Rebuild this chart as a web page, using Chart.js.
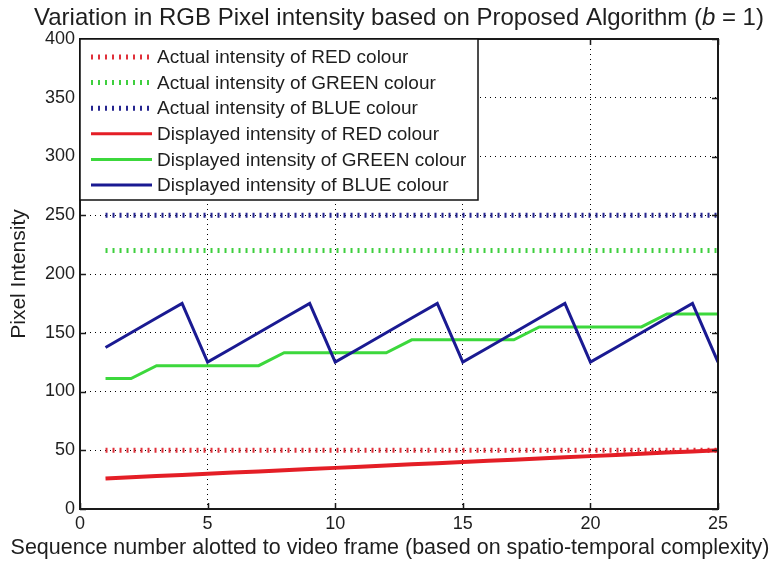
<!DOCTYPE html>
<html>
<head>
<meta charset="utf-8">
<script src="https://cdn.jsdelivr.net/npm/chart.js@4/dist/chart.umd.min.js"></script>
<style>
  html, body { margin: 0; padding: 0; background: #ffffff; }
  #wrap { width: 775px; height: 564px; }
</style>
</head>
<body>
<div id="wrap"><canvas id="c" width="775" height="564"></canvas></div>
<script>
// Frame sequence numbers (x axis)
const frames = [1, 2, 3, 4, 5, 6, 7, 8, 9, 10, 11, 12, 13, 14, 15, 16, 17, 18, 19, 20, 21, 22, 23, 24, 25];

// Actual (source) intensity of each colour channel
const actualRed   = [50, 50, 50, 50, 50, 50, 50, 50, 50, 50, 50, 50, 50, 50, 50, 50, 50, 50, 50, 50, 50, 50, 50, 50, 50];
const actualGreen = [220, 220, 220, 220, 220, 220, 220, 220, 220, 220, 220, 220, 220, 220, 220, 220, 220, 220, 220, 220, 220, 220, 220, 220, 220];
const actualBlue  = [250, 250, 250, 250, 250, 250, 250, 250, 250, 250, 250, 250, 250, 250, 250, 250, 250, 250, 250, 250, 250, 250, 250, 250, 250];

// Displayed intensity of each colour channel
const displayedRed   = [26, 27, 28, 29, 30, 31, 32, 33, 34, 35, 36, 37, 38, 39, 40, 41, 42, 43, 44, 45, 46, 47, 48, 49, 50];
const displayedGreen = [111, 111, 122, 122, 122, 122, 122, 133, 133, 133, 133, 133, 144, 144, 144, 144, 144, 155, 155, 155, 155, 155, 166, 166, 166];
const displayedBlue  = [137.5, 150, 162.5, 175, 125, 137.5, 150, 162.5, 175, 125, 137.5, 150, 162.5, 175, 125, 137.5, 150, 162.5, 175, 125, 137.5, 150, 162.5, 175, 125];

// Axis ticks
const xTicks = [0, 5, 10, 15, 20, 25];
const yTicks = [0, 50, 100, 150, 200, 250, 300, 350, 400];

// Series labels and axis titles
const seriesLabels = [
  'Actual intensity of RED colour',
  'Actual intensity of GREEN colour',
  'Actual intensity of BLUE colour',
  'Displayed intensity of RED colour',
  'Displayed intensity of GREEN colour',
  'Displayed intensity of BLUE colour'
];
const xTitle = 'Sequence number alotted to video frame (based on spatio-temporal complexity)';
const yTitle = 'Pixel Intensity';

const FONT = '"Liberation Sans", Arial, Helvetica, sans-serif';
const TEXT = '#1e1e1e';

const toPoints = (ys) => frames.map((f, i) => ({ x: f, y: ys[i] }));

const dotted = (label, ys, color, order) => ({
  label, data: toPoints(ys), borderColor: color, backgroundColor: color,
  borderWidth: 5, borderDash: [2, 5], borderCapStyle: 'butt',
  pointRadius: 0, tension: 0, fill: false, order
});
const solid = (label, ys, color, width, order) => ({
  label, data: toPoints(ys), borderColor: color, backgroundColor: color,
  borderWidth: width, borderCapStyle: 'butt', borderJoinStyle: 'miter',
  pointRadius: 0, tension: 0, fill: false, order
});

// Title with italic parameter name, plus the full-width x-axis caption
const titlePlugin = {
  id: 'mixedTitle',
  afterDraw(chart) {
    const { ctx, chartArea: a } = chart;
    const parts = [
      { t: 'Variation in RGB Pixel intensity based on Proposed Algorithm (', it: false },
      { t: 'b', it: true },
      { t: ' = 1)', it: false }
    ];
    ctx.save();
    ctx.fillStyle = TEXT;
    ctx.textBaseline = 'alphabetic';
    ctx.textAlign = 'left';
    const fontOf = (p) => (p.it ? 'italic ' : '') + '24px ' + FONT;
    let total = 0;
    parts.forEach(p => { ctx.font = fontOf(p); p.w = ctx.measureText(p.t).width; total += p.w; });
    let x = (a.left + a.right) / 2 - total / 2;
    parts.forEach(p => { ctx.font = fontOf(p); ctx.fillText(p.t, x, 25); x += p.w; });

    ctx.font = '21.5px ' + FONT;
    ctx.textAlign = 'center';
    ctx.textBaseline = 'middle';
    ctx.fillText(xTitle, 390, 548);
    ctx.restore();
  }
};

// Axes box with inward tick marks
const boxPlugin = {
  id: 'axesBox',
  afterDatasetsDraw(chart) {
    const { ctx, chartArea: a, scales: { x, y } } = chart;
    ctx.save();
    ctx.strokeStyle = '#1a1a1a';
    ctx.lineWidth = 1.5;
    ctx.beginPath();
    const tl = 6;
    y.ticks.forEach(t => {
      const py = Math.round(y.getPixelForValue(t.value)) + 0.5;
      ctx.moveTo(a.left, py); ctx.lineTo(a.left + tl, py);
      ctx.moveTo(a.right, py); ctx.lineTo(a.right - tl, py);
    });
    x.ticks.forEach(t => {
      const px = Math.round(x.getPixelForValue(t.value)) + 0.5;
      ctx.moveTo(px, a.bottom); ctx.lineTo(px, a.bottom - tl);
      ctx.moveTo(px, a.top); ctx.lineTo(px, a.top + tl);
    });
    ctx.stroke();
    ctx.lineWidth = 2;
    ctx.strokeRect(a.left, a.top, a.right - a.left, a.bottom - a.top);
    ctx.restore();
  }
};

// Legend box in the upper-left corner of the plot
const legendPlugin = {
  id: 'boxLegend',
  afterDraw(chart) {
    const { ctx, chartArea: a } = chart;
    const w = 398, h = 161;
    const rowTop = 18, rowGap = 25.6;
    const x0 = a.left, y0 = a.top;
    ctx.save();
    ctx.fillStyle = '#ffffff';
    ctx.fillRect(x0, y0, w, h);
    ctx.strokeStyle = '#111111';
    ctx.lineWidth = 1.5;
    ctx.strokeRect(x0, y0, w, h);
    ctx.font = '19px ' + FONT;
    ctx.textBaseline = 'middle';
    ctx.textAlign = 'left';
    chart.data.datasets.forEach((ds, i) => {
      const cy = y0 + rowTop + i * rowGap;
      ctx.save();
      ctx.strokeStyle = ds.borderColor;
      ctx.lineWidth = ds.borderDash ? 5 : 3;
      ctx.lineCap = 'butt';
      ctx.setLineDash(ds.borderDash || []);
      ctx.beginPath();
      ctx.moveTo(x0 + 11, cy);
      ctx.lineTo(x0 + 72, cy);
      ctx.stroke();
      ctx.restore();
      ctx.fillStyle = TEXT;
      ctx.fillText(ds.label, x0 + 77, cy + 1);
    });
    ctx.restore();
  }
};

new Chart(document.getElementById('c'), {
  type: 'line',
  data: {
    datasets: [
      dotted(seriesLabels[0], actualRed, '#e0303a', 5),
      dotted(seriesLabels[1], actualGreen, '#3fcf3f', 4),
      dotted(seriesLabels[2], actualBlue, '#25258f', 3),
      solid(seriesLabels[3], displayedRed, '#e41e26', 4, 2),
      solid(seriesLabels[4], displayedGreen, '#3cd83c', 3, 1),
      solid(seriesLabels[5], displayedBlue, '#1a1a92', 3, 0)
    ]
  },
  options: {
    responsive: false,
    animation: false,
    events: [],
    layout: { padding: { top: 39, right: 57, left: 0, bottom: 0 } },
    plugins: { legend: { display: false }, tooltip: { enabled: false }, title: { display: false } },
    scales: {
      x: {
        type: 'linear', min: 0, max: 25,
        afterBuildTicks: (s) => { s.ticks = xTicks.map(v => ({ value: v })); },
        afterFit: (s) => { s.height = 55; },
        grid: { color: '#000000', lineWidth: 1, drawTicks: false },
        border: { display: false, dash: [1, 4] },
        ticks: { padding: 4, color: TEXT, font: { family: FONT, size: 18 }, maxRotation: 0 },
        title: { display: false }
      },
      y: {
        type: 'linear', min: 0, max: 400,
        afterBuildTicks: (s) => { s.ticks = yTicks.map(v => ({ value: v })); },
        afterFit: (s) => { s.width = 80; },
        grid: { color: '#000000', lineWidth: 1, drawTicks: false },
        border: { display: false, dash: [1, 4] },
        ticks: { padding: 5, color: TEXT, font: { family: FONT, size: 18 } },
        title: {
          display: true, text: yTitle,
          color: TEXT, font: { family: FONT, size: 21 }, padding: { top: 7, bottom: 0 }
        }
      }
    }
  },
  plugins: [boxPlugin, legendPlugin, titlePlugin]
});
</script>
</body>
</html>
